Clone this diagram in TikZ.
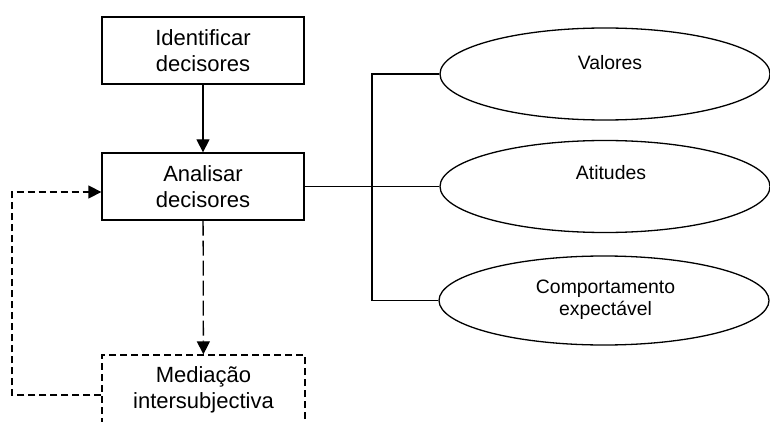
\documentclass[tikz,border=0pt]{standalone}
\usepackage{fontspec}
\setmainfont{Liberation Sans}
\usetikzlibrary{shapes.geometric,arrows.meta}
\begin{document}
\begin{tikzpicture}[x=1pt,y=-1pt,
  stepbox/.style={draw,line width=1.3pt,minimum width=202pt,minimum height=67pt,
    inner sep=0pt,align=center,font=\fontsize{22}{26}\selectfont},
  dashbox/.style={stepbox,dash pattern=on 7pt off 4pt},
  oval/.style={draw,ellipse,line width=1.3pt,minimum width=330pt,
    minimum height=92pt,inner sep=0pt},
  ovaltext/.style={align=center,inner sep=0pt,font=\fontsize{19.4}{22.5}\selectfont},
  link/.style={line width=1.3pt},
  tip/.style={-{Triangle[length=13pt,width=13pt]}},
]
\clip (0,0) rectangle (770,422);

% process boxes
\node[stepbox] (ident) at (203,50.5) {Identificar\\decisores};
\node[stepbox] (anal) at (203,186.5) {Analisar\\decisores};
\node[dashbox,minimum width=203pt,minimum height=70pt] (med) at (203.5,390) {Mediação\\intersubjectiva};

% characteristics
\node[oval] (val) at (605,74) {};
\node[ovaltext] (valtxt) at (610,63) {Valores};
\node[oval] (att) at (605,186.5) {};
\node[ovaltext] (atttxt) at (611,173) {Atitudes};
\node[oval,minimum height=89pt] (comp) at (604,300.5) {};
\node[ovaltext] (comptxt) at (605.5,299.5) {Comportamento\\expectável};

% bracket to the characteristics
\coordinate (fork) at (372,186.5);
\draw[link] (anal.east) -- (fork);
\draw[link] (val.west) -| (fork) |- (comp.west);
\draw[link] (fork) -- (att.west);

% flow arrows
\draw[link,tip] (ident) -- (anal);
\draw[link,tip,dash pattern=on 15pt off 5pt] (anal) -- (med);

% feedback loop
\coordinate (fbl) at (12,300);
\draw[link,tip,dash pattern=on 7pt off 4pt]
  ([yshift=-5pt]med.west) -| (fbl) |- ([yshift=-5.5pt]anal.west);
\end{tikzpicture}
\end{document}
